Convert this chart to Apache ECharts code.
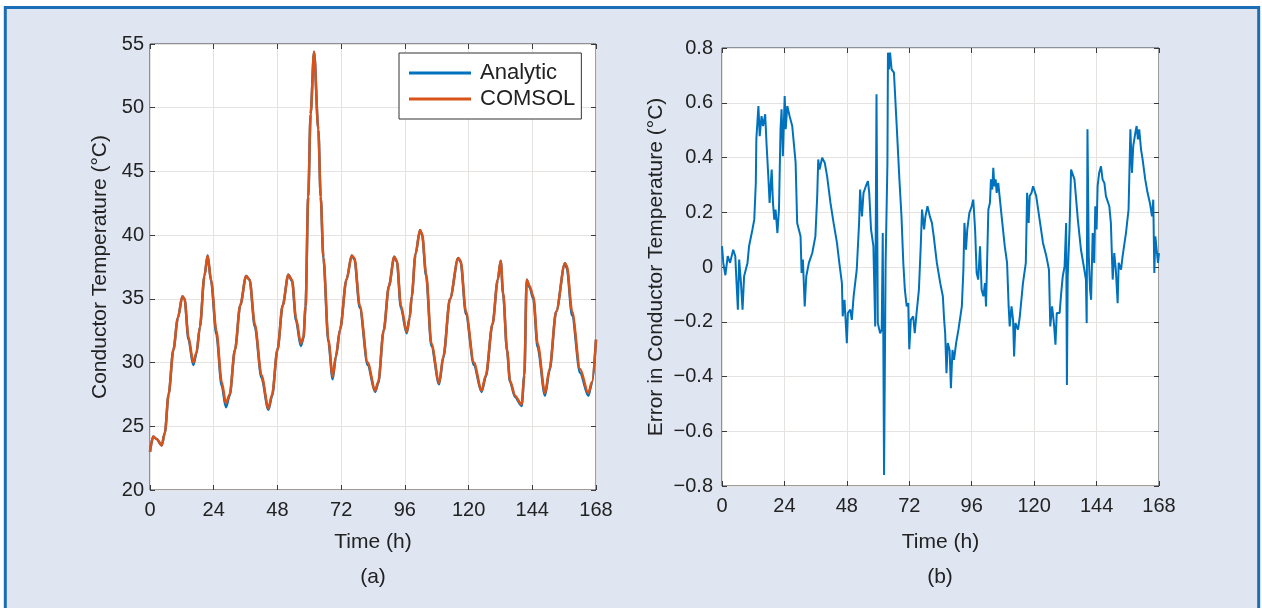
<!DOCTYPE html>
<html><head><meta charset="utf-8">
<script src="https://cdn.jsdelivr.net/npm/echarts@6/dist/echarts.min.js"></script>
<style>html,body{margin:0;padding:0;background:#fff}#c{width:1262px;height:608px}</style>
</head><body><div id="c"></div>
<script>
// ---- Panel (a): conductor temperature ----
var timeA = [0,1.2,2.5,4.4,5.6,7,8.8,10.5,12.2,13,14.5,16.3,17.5,18.8,20.5,21.7,23,25,27,28.6,30,32,34,36.2,37.5,39.5,42,44.6,46,48,50,52.1,53.5,55,56.8,57.8,58.6,59.6,60.5,61.8,63.4,64.3,65.3,67.2,68.8,70,71.6,74,76,77,79,82,84.8,86,88,90,92,93,94.5,96.7,97.8,98.6,100,101.7,102.5,104,106,108.9,110.5,113,116.1,117,119,122,124.9,126.5,129,131,132.1,133,134.5,135.6,137.5,140,141,141.9,143,144.4,146,148.8,150.5,153,156.3,157,159,162,165.1,166.5,168];
var comsolT = [23.0,24.2,24.0,23.5,24.5,27.5,31,33.5,35.2,35.0,32,30.0,30.8,32.8,36.8,38.4,36.5,32.5,28.5,26.8,27.5,31,34.5,36.8,36.5,33,29,26.4,27.5,31,34.5,36.9,36.5,33.5,31.5,32.0,34.4,43,49.5,54.4,48.3,43,38.3,31.8,28.9,30.5,32.6,36.5,38.4,38.2,34.5,30,27.8,28.5,32.5,36,38.3,38.0,34.5,32.4,33.5,35.2,38.5,40.4,40.1,37,31.5,28.4,30.5,35,38.2,38.0,34,30,27.8,29,33,36.5,38.0,35.5,31,28.6,27.4,26.7,29,36.5,36.0,35.2,31.5,27.6,29.5,34,37.8,37.6,34,29.5,27.6,28.5,31.8];
var analyticT = [23.0,24.2,24.0,23.5,24.5,27.5,31,33.5,35.2,35.0,31.8,29.8,30.7,32.8,36.8,38.4,36.4,32.2,28.2,26.5,27.4,31,34.5,36.8,36.5,32.8,28.8,26.3,27.4,31,34.5,36.9,36.4,33.3,31.3,31.9,34.4,43,49.5,54.4,48.3,43,38.2,31.6,28.7,30.4,32.6,36.5,38.4,38.1,34.3,29.8,27.7,28.4,32.5,36,38.3,37.9,34.3,32.3,33.5,35.2,38.5,40.4,40.0,36.8,31.3,28.3,30.4,35,38.2,37.9,33.8,29.8,27.7,28.9,33,36.5,38.0,35.4,30.9,28.5,27.3,26.6,29,36.5,35.9,35.0,31.2,27.4,29.4,34,37.8,37.4,33.7,29.2,27.4,28.4,31.8];
// ---- Panel (b): error ----
var timeB = [0,0.5,1.3,2.2,3.1,4.3,5.1,5.6,6.1,6.6,7.3,7.9,8.5,9.8,10.4,11.7,12.4,13.0,13.2,14.0,14.5,15.2,15.8,16.6,17.1,17.8,18.3,19.1,19.6,20.1,20.6,21.3,21.9,22.5,22.9,23.4,24.1,24.5,25.1,26.0,27.0,28.3,28.9,30.2,30.6,31.1,31.8,32.4,33.4,34.7,35.9,36.6,37.0,37.5,38.5,39.5,40.4,41.7,42.9,44.2,45.1,46.1,46.4,47.1,48.0,48.4,49.3,49.9,50.6,51.8,52.7,53.1,53.8,54.4,55.3,56.1,56.6,57.3,58.2,58.9,59.4,59.9,60.8,61.4,61.8,62.3,62.9,63.6,63.8,64.2,64.6,65.2,66.1,67.1,68.2,69.0,69.7,70.3,71.0,71.6,72.0,72.6,73.5,74.1,74.8,75.7,76.4,76.9,77.7,78.2,79.0,79.9,80.7,81.4,82.6,83.9,84.9,85.4,85.8,86.3,86.8,87.5,88.0,88.6,89.2,90.0,90.9,92.2,92.8,93.2,93.8,94.3,95.1,96.0,96.6,97.3,97.9,98.5,99.2,99.8,100.5,101.1,101.5,102.4,103.0,103.4,103.9,104.3,104.7,105.2,105.6,106.2,107.5,108.7,109.6,110.2,110.6,111.3,111.9,112.3,112.8,113.8,114.5,115.7,116.8,117.3,117.9,118.3,119.0,119.6,120.2,120.8,122.1,123.4,124.7,125.7,126.2,126.9,127.6,128.2,128.7,129.8,130.4,131.0,131.7,132.3,132.6,132.9,133.6,134.2,134.8,135.5,136.8,138.0,139.3,139.9,140.2,140.5,141.0,141.5,141.9,142.5,143.1,143.5,144.0,144.4,145.0,145.7,146.3,147.0,147.6,148.9,149.5,150.2,150.8,151.4,152.1,152.5,153.4,154.0,155.3,156.3,157.0,157.6,158.1,158.9,159.4,159.9,160.4,161.1,161.7,162.7,163.6,164.5,165.3,165.8,166.2,166.6,167.1,167.6,168.0];
var errorB = [0.076,0.015,-0.03,0.04,0.015,0.063,0.04,-0.06,-0.156,0.027,-0.06,-0.156,-0.034,0.015,0.076,0.137,0.173,0.307,0.466,0.588,0.478,0.551,0.515,0.558,0.454,0.332,0.234,0.356,0.234,0.173,0.21,0.124,0.21,0.503,0.576,0.405,0.625,0.503,0.588,0.551,0.515,0.381,0.161,0.112,-0.022,0.027,-0.144,-0.034,0.015,0.051,0.112,0.259,0.393,0.356,0.399,0.381,0.332,0.234,0.161,0.088,0.015,-0.059,-0.18,-0.12,-0.278,-0.168,-0.156,-0.193,-0.107,-0.01,0.161,0.283,0.185,0.271,0.295,0.314,0.271,0.137,0.076,-0.217,0.631,-0.205,-0.242,-0.229,0.124,-0.76,0.015,0.381,0.783,0.722,0.783,0.722,0.71,0.527,0.32,0.185,0.015,-0.083,-0.144,-0.132,-0.3,-0.193,-0.18,-0.242,-0.168,-0.083,0.076,0.21,0.137,0.185,0.222,0.185,0.161,0.112,0.015,-0.059,-0.107,-0.193,-0.242,-0.388,-0.278,-0.303,-0.443,-0.303,-0.339,-0.278,-0.229,-0.144,-0.01,0.161,0.063,0.137,0.198,0.222,0.246,0.137,-0.022,-0.046,0.076,-0.083,-0.107,-0.059,-0.144,0.21,0.234,0.32,0.283,0.362,0.295,0.32,0.271,0.307,0.185,0.076,0.015,-0.144,-0.217,-0.144,-0.193,-0.327,-0.205,-0.229,-0.18,-0.059,0.015,0.271,0.161,0.259,0.271,0.295,0.301,0.259,0.173,0.088,0.039,-0.01,-0.217,-0.144,-0.205,-0.284,-0.168,-0.168,-0.095,-0.034,0.002,0.161,-0.431,-0.034,0.137,0.356,0.362,0.32,0.173,0.063,-0.01,-0.046,-0.205,0.503,0.039,-0.083,-0.12,0.124,0.015,0.222,0.137,0.295,0.344,0.368,0.32,0.307,0.259,0.222,0.161,-0.046,0.051,-0.01,-0.132,0.015,-0.01,0.039,0.124,0.21,0.503,0.344,0.442,0.49,0.515,0.466,0.503,0.429,0.393,0.32,0.271,0.234,0.185,0.246,-0.022,0.112,0.063,0.015,0.051];
var xTicks = [0,24,48,72,96,120,144,168];
var legendNames = ['Analytic','COMSOL'];

function pairs(t, v){ return t.map(function(x,i){ return [x, v[i]]; }); }

var FONT = "'Liberation Sans', Arial, Helvetica, sans-serif";
var FS = 20;
var NFS = 21;
var axisCol = '#3a3a3a';
var gridCol = '#e5e2e0';
function xAx(grid, pos, show, gap){
  return {type:'value', gridIndex:grid, position:pos, min:0, max:168, interval:24,
    name: show ? 'Time (h)' : '', nameLocation:'middle', nameGap:gap || 0,
    nameTextStyle:{fontFamily:FONT, fontSize:NFS, color:'#222'},
    axisLine:{show:false, onZero:false}, axisTick:{show:true, inside:true, length:5, lineStyle:{color:axisCol}},
    axisLabel:{show:show, fontFamily:FONT, fontSize:FS, color:'#222', margin:10},
    splitLine:{show:show, lineStyle:{color:gridCol, width:1}}};
}
function yAx(grid, pos, show, min, max, iv, name, gap, margin, fmt){
  return {type:'value', gridIndex:grid, position:pos, min:min, max:max, interval:iv,
    name: show ? name : '', nameLocation:'middle', nameGap:gap,
    nameTextStyle:{fontFamily:FONT, fontSize:NFS, color:'#222'},
    axisLine:{show:false, onZero:false}, axisTick:{show:true, inside:true, length:5, lineStyle:{color:axisCol}},
    axisLabel:{show:show, fontFamily:FONT, fontSize:FS, color:'#222', margin:margin, formatter:fmt},
    splitLine:{show:show, lineStyle:{color:gridCol, width:1}}};
}
var errFmt = function(v){ if (Math.abs(v) < 1e-9) return '0'; return (v<0?'\u2212':'') + Math.abs(v).toFixed(1); };

var chart = echarts.init(document.getElementById('c'), null, {renderer:'canvas'});
chart.setOption({
  backgroundColor:'#ffffff',
  animation:false,
  graphic:[
    {type:'rect', z:-10, silent:true, shape:{x:5.3, y:7.5, width:1253.4, height:640},
     style:{fill:'#dfe6f2', stroke:'#1b6db5', lineWidth:3}},
    {type:'text', x:373, y:577, style:{text:'(a)', font:"21px 'Liberation Sans', Arial", fill:'#222', align:'center', verticalAlign:'middle'}},
    {type:'text', x:940, y:577, style:{text:'(b)', font:"21px 'Liberation Sans', Arial", fill:'#222', align:'center', verticalAlign:'middle'}}
  ],
  grid:[
    {left:150, top:44, width:446, height:446, show:true, backgroundColor:'#fff', borderColor:axisCol, borderWidth:1},
    {left:722, top:48, width:437, height:438, show:true, backgroundColor:'#fff', borderColor:axisCol, borderWidth:1}
  ],
  xAxis:[ xAx(0,'bottom',true,42), xAx(0,'top',false), xAx(1,'bottom',true,46), xAx(1,'top',false) ],
  yAxis:[
    yAx(0,'left',true,20,55,5,'Conductor Temperature (\u00B0C)',39,6),
    yAx(0,'right',false,20,55,5,'',0,6),
    yAx(1,'left',true,-0.8,0.8,0.2,'Error in Conductor Temperature (\u00B0C)',55,9,errFmt),
    yAx(1,'right',false,-0.8,0.8,0.2,'',0,6)
  ],
  legend:{data:legendNames, orient:'vertical', left:399, top:53,
    backgroundColor:'#fff', borderColor:'#333', borderWidth:1, borderRadius:0,
    padding:[9,6,9,10], itemGap:4, itemWidth:62, itemHeight:3, icon:'rect',
    textStyle:{fontFamily:FONT, fontSize:22, color:'#222', padding:[0,0,0,4]}},
  series:[
    {name:'Analytic', type:'line', xAxisIndex:0, yAxisIndex:0, data:pairs(timeA, analyticT),
     showSymbol:false, smooth:0.3, smoothMonotone:'x', lineStyle:{color:'#0072BD', width:2.5}, itemStyle:{color:'#0072BD'}},
    {name:'COMSOL', type:'line', xAxisIndex:0, yAxisIndex:0, data:pairs(timeA, comsolT),
     showSymbol:false, smooth:0.3, smoothMonotone:'x', lineStyle:{color:'#D95319', width:2.5}, itemStyle:{color:'#D95319'}},
    {name:'Error', type:'line', xAxisIndex:2, yAxisIndex:2, data:pairs(timeB, errorB),
     showSymbol:false, lineStyle:{color:'#0072BD', width:2}, itemStyle:{color:'#0072BD'}}
  ]
});
</script></body></html>
